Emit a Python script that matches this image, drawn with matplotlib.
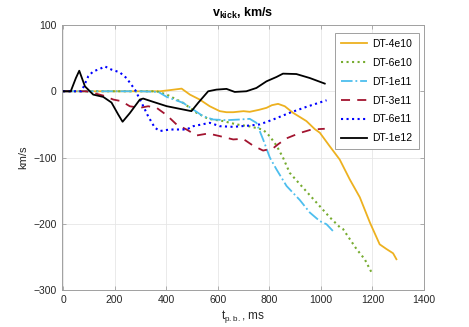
import matplotlib
matplotlib.use('Agg')
import matplotlib.pyplot as plt

plt.rcParams['font.family'] = ['Liberation Sans', 'DejaVu Sans']
plt.rcParams['mathtext.fontset'] = 'custom'
plt.rcParams['mathtext.rm'] = 'Liberation Sans'
plt.rcParams['mathtext.bf'] = 'Liberation Sans:bold'
plt.rcParams['mathtext.it'] = 'Liberation Sans:italic'

# DT-4e10
t_4e10 = [0, 100, 200, 300, 376, 420, 460, 492, 530, 569, 608, 634, 660, 700, 724, 760, 789, 810, 834,
          860, 892, 944, 976, 996, 1034, 1073, 1112, 1151, 1190, 1228, 1254, 1280, 1293]
v_4e10 = [0, 0, 0, 0, 0, 2, 4, -5, -12.5, -22.6, -30, -31.6, -31.6, -30, -31, -28, -25, -21, -19,
          -22.6, -32.5, -45, -57, -62.6, -82.8, -103, -133, -160, -198, -231, -238, -244.5, -253.5]

# DT-6e10
t_6e10 = [0, 100, 200, 300, 363, 402, 466, 518, 563, 621, 673, 724, 776, 802, 828, 853, 879, 918,
          983, 1034, 1073, 1086, 1138, 1170, 1200]
v_6e10 = [0, 0, 0, 0, 0, -5, -17.5, -32.5, -41.6, -45, -50, -53, -58, -68, -82, -100, -123, -140,
          -168, -190, -205, -208, -238, -253.5, -276]

# DT-1e11
t_1e11 = [0, 100, 200, 300, 370, 402, 466, 505, 543, 582, 634, 686, 724, 750, 776, 802, 828, 867,
          918, 957, 996, 1022, 1047]
v_1e11 = [0, 0, 0, 0, -1, -8.5, -17.5, -27.6, -37.6, -42.6, -43.6, -42.6, -41.6, -47.6, -72.7, -100,
          -118, -143, -164, -183, -196, -200.7, -211]

# DT-3e11
t_3e11 = [0, 90, 117, 156, 195, 227, 259, 298, 330, 363, 402, 440, 479, 518, 563, 608, 660, 698,
          737, 776, 815, 834, 867, 918, 964, 1015]
v_3e11 = [0, 0, -2.5, -6.5, -12.5, -15, -22.6, -25, -22.6, -25, -36, -50, -57.7, -66.7, -63.7, -67.7,
          -72.7, -71.7, -82, -89.5, -86, -80, -71, -63, -57.7, -56.6]

# DT-6e11
t_6e11 = [0, 65, 72, 98, 117, 143, 162, 188, 220, 246, 279, 305, 330, 356, 376, 414, 440, 479, 505,
          569, 608, 660, 724, 763, 815, 879, 944, 1022]
v_6e11 = [0, 0, 0, 22.6, 30, 33.7, 37.6, 32.7, 28.6, 20, 2.5, -17.5, -37.6, -55, -60, -57.7, -57.7,
          -57.7, -52.7, -47.6, -52.7, -53.7, -51.7, -50, -42.6, -32.5, -23.5, -13.6]

# DT-1e12
t_1e12 = [0, 30, 50, 63, 85, 117, 156, 188, 214, 231, 259, 298, 311, 350, 402, 453, 498, 524, 563,
          595, 634, 666, 711, 750, 789, 828, 853, 905, 957, 1015]
v_1e12 = [0, 0, 20, 31, 7.5, -5, -8.5, -17, -35, -46, -33, -12.5, -11, -16, -22.5, -26.5, -30, -17.5,
          0, 2.5, 3.6, -1, 0, 5, 15, 21.6, 26.6, 26, 20, 11.6]

fig = plt.figure(figsize=(4.69, 3.27), dpi=100)
ax = fig.add_axes([0.1316, 0.113, 0.7725, 0.8105])

ax.plot(t_4e10, v_4e10, color='#EDB120', ls='-', lw=1.3, label='DT-4e10')
ax.plot(t_6e10, v_6e10, color='#77AC30', ls=':', lw=1.5, label='DT-6e10')
ax.plot(t_1e11, v_1e11, color='#4DBEEE', ls='-.', lw=1.3, label='DT-1e11')
ax.plot(t_3e11, v_3e11, color='#A2142F', ls=(0, (5, 4)), lw=1.3, label='DT-3e11')
ax.plot(t_6e11, v_6e11, color='#0000FF', ls=':', lw=1.5, label='DT-6e11')
ax.plot(t_1e12, v_1e12, color='black', ls='-', lw=1.3, label='DT-1e12')

ax.set_xlim(-5, 1400)
ax.set_ylim(-300, 100)
ax.set_xticks(range(0, 1401, 200))
ax.set_yticks([-300, -200, -100, 0, 100])
ax.grid(True, color='#e6e6e6', lw=0.6)
ax.set_axisbelow(True)
for s in ax.spines.values():
    s.set_color('#a0a0a0')
    s.set_linewidth(0.7)
ax.tick_params(direction='in', top=True, right=True, length=3, width=0.6, color='#a0a0a0',
               labelsize=7.5, labelcolor='#262626')

ax.set_title(r'$\mathbf{v_{kick}}$, km/s', fontsize=9, fontweight='bold', color='#000000', pad=6)
ax.set_xlabel(r'$\mathregular{t_{p.b.}}$, ms', fontsize=8.5, color='#262626', labelpad=2)
ax.set_ylabel('km/s', fontsize=8, color='#262626', labelpad=4)

leg = ax.legend(loc='upper right', bbox_to_anchor=(0.986, 0.971), borderaxespad=0, fontsize=7.5,
                handlelength=2.5, labelspacing=0.85, fancybox=False, framealpha=1,
                edgecolor='#a0a0a0', borderpad=0.6, handletextpad=0.5)
leg.get_frame().set_linewidth(0.7)

fig.savefig('out.png', dpi=100)
